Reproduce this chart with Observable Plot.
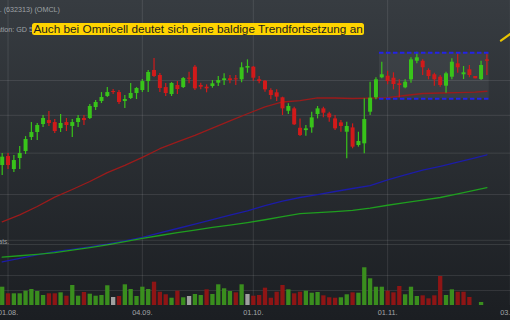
<!DOCTYPE html>
<html><head><meta charset="utf-8">
<script src="https://cdn.jsdelivr.net/npm/d3@7"></script>
<script src="https://cdn.jsdelivr.net/npm/@observablehq/plot@0.6"></script>
<style>
html,body{margin:0;padding:0;background:#1b1e22;}
#wrap{position:relative;width:510px;height:320px;overflow:hidden;background:linear-gradient(#373c41,#1b1e22);font-family:"Liberation Sans",Arial,sans-serif;}
#wrap svg{position:absolute;left:0;}
.small{position:absolute;white-space:nowrap;font-size:7.2px;line-height:9px;color:#9ea2a6;text-align:right;}
#note{position:absolute;left:32px;top:22.5px;height:12.5px;padding:0 1.5px;font-size:11.75px;line-height:12.5px;background:#ffd400;border-radius:2.5px;color:#1e1e1e;white-space:nowrap;}
</style></head><body><div id="wrap"></div>
<script>
// ---- data ----
const dates = ["31.07.","01.08.","02.08.","03.08.","06.08.","07.08.","08.08.","09.08.","10.08.","13.08.","14.08.","15.08.","16.08.","17.08.","20.08.","21.08.","22.08.","23.08.","24.08.","27.08.","28.08.","29.08.","30.08.","31.08.",
"04.09.","05.09.","06.09.","07.09.","10.09.","11.09.","12.09.","13.09.","14.09.","17.09.","18.09.","19.09.","20.09.","21.09.","24.09.","25.09.","26.09.","27.09.","28.09.",
"01.10.","02.10.","03.10.","04.10.","05.10.","08.10.","09.10.","10.10.","11.10.","12.10.","15.10.","16.10.","17.10.","18.10.","19.10.","22.10.","23.10.","24.10.","25.10.","26.10.","29.10.","30.10.","31.10.",
"01.11.","02.11.","05.11.","06.11.","07.11.","08.11.","09.11.","12.11.","13.11.","14.11.","15.11.","16.11.","19.11.","20.11.","21.11.","23.11.","26.11.","27.11."];
const open  = [53.45,54.57,52.96,54.32,55.20,57.01,57.67,58.74,59.28,59.01,58.20,59.01,58.48,59.01,59.56,59.56,61.09,61.94,62.66,63.38,63.23,61.94,62.37,63.09,63.52,64.85,66.52,65.76,63.96,62.94,64.26,63.96,65.35,67.03,64.26,64.01,64.11,64.60,65.00,65.26,65.26,65.11,66.88,67.03,65.11,64.90,63.52,63.19,62.47,60.56,60.90,58.24,57.93,58.29,60.11,60.90,60.20,59.51,58.97,57.71,58.29,55.97,56.19,60.43,62.47,65.41,65.66,65.35,64.51,63.92,65.11,67.95,67.95,66.52,65.87,65.50,64.16,65.50,67.55,65.87,66.63,65.61,65.15,68.17];
const high  = [54.95,54.95,54.70,55.85,57.14,59.01,58.88,59.97,60.52,59.42,60.11,59.56,59.42,59.97,59.97,61.51,62.08,63.23,63.96,63.67,63.52,62.80,64.56,63.96,65.15,66.52,68.38,66.06,64.56,64.70,64.85,65.46,66.26,67.29,64.60,64.36,65.00,65.61,66.02,65.76,65.76,67.71,68.17,67.14,65.61,65.00,63.77,63.62,62.56,61.61,61.13,59.51,58.61,60.43,61.23,61.13,60.43,59.97,59.28,59.05,58.83,57.71,62.32,64.75,65.41,67.80,66.41,66.17,65.11,65.11,68.49,69.38,68.17,66.78,66.11,65.76,66.26,68.33,69.12,67.14,67.29,65.61,67.95,69.12];
const low   = [52.24,52.96,52.60,52.96,54.83,56.62,56.62,58.34,58.48,57.54,57.67,57.80,57.01,58.34,58.61,59.42,60.66,61.65,62.51,62.94,61.51,60.95,62.22,62.22,63.23,63.23,65.46,63.23,62.66,62.66,62.94,63.82,64.52,63.52,63.62,63.19,63.86,64.11,64.26,64.52,64.26,64.66,66.11,64.90,64.52,63.28,62.18,61.94,59.97,60.11,58.61,57.14,57.18,57.58,59.51,59.65,59.05,57.93,57.71,54.28,55.55,55.76,54.91,59.97,62.18,65.26,64.36,63.62,62.47,63.77,64.60,67.55,65.76,65.11,64.16,64.01,63.13,65.11,66.11,65.15,65.41,65.26,65.00,65.76];
const close = [54.49,53.45,54.07,54.95,56.75,57.67,58.61,59.56,58.88,57.80,58.88,58.61,59.01,59.56,59.28,61.23,61.80,62.51,63.23,63.23,61.80,62.22,63.09,63.82,64.85,66.22,65.61,63.82,63.09,64.56,63.67,65.30,65.20,63.77,64.01,63.77,64.51,65.00,65.26,65.00,65.11,66.94,67.14,65.35,64.85,63.62,62.80,62.56,60.90,61.23,58.70,57.27,58.16,59.65,60.90,60.29,59.65,58.16,58.48,58.48,55.76,56.49,59.42,62.41,65.11,65.87,64.85,64.41,64.26,64.75,68.17,68.49,66.94,65.61,65.11,64.26,66.02,67.80,66.94,66.17,65.76,65.26,67.29,67.95];
// volume in thousand shares, direction: 1 up, -1 down, 0 unchanged
const volumeK = [244,156,156,156,191,213,187,133,156,156,169,124,267,124,173,151,124,133,263,107,120,276,213,120,244,213,311,177,143,97,191,103,120,147,133,209,147,276,223,187,169,276,147,124,133,231,97,177,267,209,156,177,191,164,173,129,103,97,103,143,169,164,503,356,244,244,191,169,253,143,244,120,129,89,129,387,133,209,177,177,107,0,40,0];
const volumeDir = [1,-1,1,1,1,1,1,1,-1,-1, 1,-1,1,1,-1,1,1,1,1,0, -1,1,1,1,1,1,-1,-1,-1,1, -1,1,0,1,1,-1,1,1,1,1, -1,1,0,-1,-1,-1,-1,-1,-1,1, -1,-1,1,1,1,-1,-1,-1,1,1, -1,1,1,1,1,1,-1,-1,-1,1, 1,1,-1,-1,-1,-1,1,1,-1,-1, -1,0,1,0];
// moving averages (GD 50 / 100 / 200), sampled at these trading-day indices
const maIndex = [0,3,6,9,12,15,18,21,24,27,30,33,36,39,42,45,48,51,54,57,60,63,66,69,72,75,78,81,83];
const sma50  = [46.96,47.72,48.64,49.71,50.58,51.52,52.58,53.47,54.47,55.56,56.43,57.29,58.27,59.25,60.22,61.19,61.87,62.05,62.47,62.44,62.37,62.43,62.50,62.80,63.09,63.16,63.22,63.30,63.42];
const sma100 = [42.81,43.17,43.51,43.84,44.07,44.32,44.60,44.95,45.31,45.77,46.24,46.72,47.20,47.68,48.16,48.75,49.24,49.66,49.98,50.35,50.70,51.04,51.71,52.31,52.90,53.36,53.87,54.40,54.79];
const sma200 = [43.29,43.43,43.57,43.74,43.99,44.24,44.53,44.86,45.19,45.50,45.80,46.07,46.35,46.60,46.87,47.18,47.51,47.84,47.96,48.08,48.22,48.47,48.78,49.07,49.37,49.66,50.08,50.51,50.80];
const priceTicks = [45,50,55,60,65];
const volumeTicks = [200,400];
const dateTickIndex = [1,24,43,66,87];
const dateTickLabels = ["01.08.","04.09.","01.10.","01.11.","03.12."];
const channelIndex = [64.6,83.4];
const channelPrice = [62.32,69.28];
const trendIndex = [85.4,88];
const trendPrice = [71.27,73.07];

// ---- style ----
const UP="#38c41a", DOWN="#d11a1a";
const VOLC={"1":"#3a8e1e","-1":"#8e1515","0":"#a0a0a0"};
const MAC={"GD 50":"#9b1b1b","GD 100":"#1c1ca8","GD 200":"#1f9e1f"};
const GRID="rgba(255,255,255,0.10)";
const xDomain=[-0.29,87.04];
const priceDomain=[38.73,78.15];
const volumeTop=813.3;

const rows = dates.map((date,i)=>({i,date,o:open[i],h:high[i],l:low[i],c:close[i],v:volumeK[i],dir:String(volumeDir[i])}));
const maRows = maIndex.flatMap((i,k)=>[{i,v:sma50[k],s:"GD 50"},{i,v:sma100[k],s:"GD 100"},{i,v:sma200[k],s:"GD 200"}]);
const channel=[{a:channelIndex[0],b:channelIndex[1],lo:channelPrice[0],hi:channelPrice[1]}];
const channelEdges=channelPrice.map(p=>({a:channelIndex[0],b:channelIndex[1],p}));
const trend=trendIndex.map((i,k)=>({i,p:trendPrice[k]}));
const cc = d => d.c >= d.o ? UP : DOWN;

const price = Plot.plot({
  width:510,height:305,margin:0,
  style:{background:"transparent"},
  x:{domain:xDomain,axis:null},
  y:{type:"log",domain:priceDomain,axis:null},
  marks:[
    Plot.ruleY(priceTicks,{stroke:GRID}),
    Plot.ruleX(dateTickIndex,{stroke:GRID}),
    Plot.rect(channel,{x1:"a",x2:"b",y1:"lo",y2:"hi",fill:"rgba(255,255,255,0.05)"}),
    Plot.line(maRows,{x:"i",y:"v",z:"s",stroke:d=>MAC[d.s],strokeWidth:1.3}),
    Plot.ruleX(rows,{x:"i",y1:"l",y2:"h",stroke:cc,strokeWidth:1.2}),
    Plot.ruleX(rows,{x:"i",y1:"o",y2:"c",stroke:cc,strokeWidth:4}),
    Plot.ruleY(channelEdges,{y:"p",x1:"a",x2:"b",stroke:"#2323e8",strokeWidth:2,strokeDasharray:"4.5,2.5"}),
    Plot.line(trend,{x:"i",y:"p",stroke:"#e8c400",strokeWidth:2.2,clip:true})
  ]
});
price.style.top="0px";

const vol = Plot.plot({
  width:510,height:77,marginTop:1,marginBottom:15,marginLeft:0,marginRight:0,
  style:{background:"transparent",fontFamily:"Liberation Sans, Arial, sans-serif"},
  x:{domain:xDomain},
  y:{domain:[0,volumeTop],axis:null},
  marks:[
    Plot.ruleY(volumeTicks,{stroke:GRID}),
    Plot.ruleY([volumeTop],{stroke:GRID}),
    Plot.ruleX(rows,{x:"i",y1:0,y2:"v",stroke:d=>VOLC[d.dir],strokeWidth:4.3}),
    Plot.axisX(dateTickIndex,{tickFormat:d=>dateTickLabels[dateTickIndex.indexOf(d)],tickSize:0,tickPadding:4,fontSize:7.3,fill:"#a3a6a9",label:null})
  ]
});
vol.style.top="243px";

const wrap=document.getElementById("wrap");
wrap.append(price);
wrap.append(vol);
const h1=document.createElement("div");h1.className="small";h1.style.top="5px";h1.style.right="450px";h1.textContent="Omnicell Inc. (632313) (OMCL)";
const h2=document.createElement("div");h2.className="small";h2.style.top="25px";h2.style.right="477px";h2.textContent="Indikation: GD 5";
const h3=document.createElement("div");h3.className="small";h3.style.top="236.5px";h3.style.right="501px";h3.style.fontSize="6.5px";h3.textContent="Stats.";
const note=document.createElement("div");note.id="note";note.textContent="Auch bei Omnicell deutet sich eine baldige Trendfortsetzung an";
wrap.append(h1,h2,h3,note);
</script></body></html>
